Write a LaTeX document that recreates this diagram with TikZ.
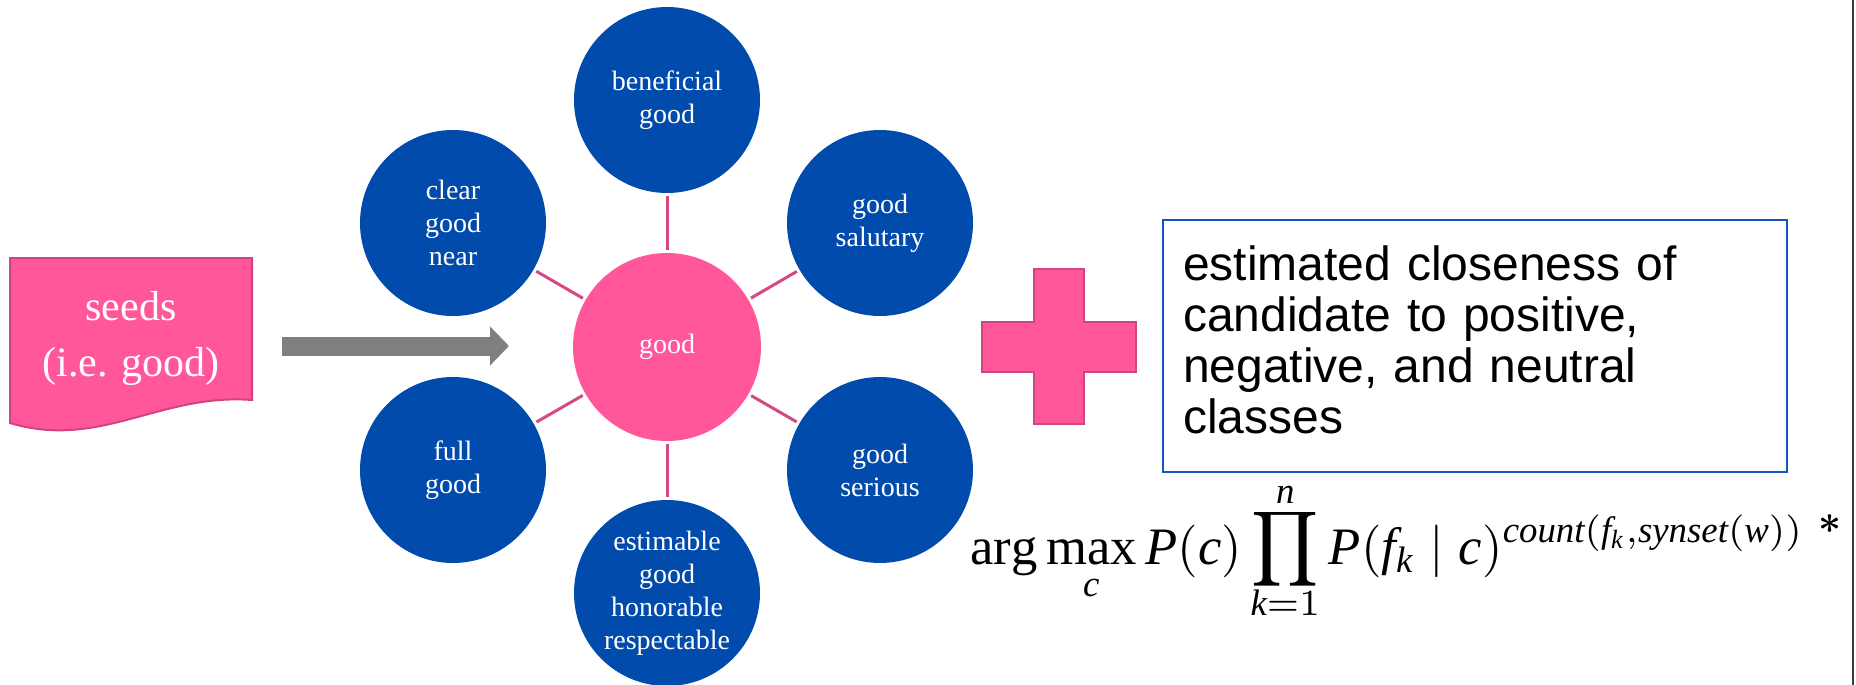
\documentclass[tikz,border=0pt]{standalone}
\usepackage{amsmath}
\usepackage{graphicx}
\usepackage{fontspec}
\setmainfont{Liberation Serif}
\newfontfamily\sansfam{Liberation Sans}
\newfontfamily\timesfam{Liberation Serif}[NFSSFamily=ltimes]
\DeclareMathAlphabet{\mti}{TU}{ltimes}{m}{it}
\newcommand{\prodstack}{\mathop{\vcenter{\offinterlineskip\halign{\hfil##\hfil\cr
  $\scriptstyle\mti{n}$\cr\noalign{\kern0.8pt}
  $\displaystyle\prod$\cr\noalign{\kern-0.3pt}
  $\scriptstyle\mti{k}=1$\cr}}}}
\usetikzlibrary{arrows.meta}
\definecolor{nodeblue}{RGB}{1,75,172}
\definecolor{seedpink}{RGB}{255,87,153}
\definecolor{pinkedge}{RGB}{208,68,128}
\definecolor{linkpink}{RGB}{214,72,133}
\definecolor{boxblue}{RGB}{20,84,196}
\definecolor{arrowgray}{RGB}{127,127,127}
\definecolor{edgegray}{RGB}{60,60,60}
\begin{document}
\begin{tikzpicture}[x=1pt,y=-1pt,
  sat/.style={circle,fill=nodeblue,minimum size=186pt,inner sep=0pt,text=white,
    align=center,font=\fontsize{28}{33}\selectfont},
  hub/.style={circle,fill=seedpink,minimum size=188pt,inner sep=0pt,text=white,
    font=\fontsize{28}{33}\selectfont},
  link/.style={draw=linkpink,line width=3pt,shorten >=3pt,shorten <=3pt},
  seedshape/.style={fill=seedpink,draw=pinkedge,line width=2pt,line join=miter},
  seedtext/.style={text=white,align=center,inner sep=0pt,font=\fontsize{42}{56}\selectfont},
  bigarrow/.style={draw=arrowgray,line width=19pt,-{Triangle[length=19pt,width=38pt]}},
  plusshape/.style={fill=seedpink,draw=pinkedge,line width=2pt},
  textframe/.style={draw=boxblue,line width=2.5pt,minimum width=624pt,minimum height=252pt,inner sep=0pt},
  boxtext/.style={text width=584pt,inner sep=0pt,align=left,font=\sansfam\fontsize{48}{51}\selectfont},
  formula/.style={inner sep=0pt},
  edgeline/.style={draw=edgegray,line width=2pt}]
\useasboundingbox (0,0) rectangle (1856,685);

% seeds document shape
\draw[seedshape] (10,258) -- (252,258) -- (252,400)
  .. controls (160,393) and (100,450) .. (10,423) -- cycle;
\node[seedtext] (seeds) at (131,338) {seeds\\(i.e. good)};

% arrow
\coordinate (arrS) at (282,346);
\coordinate (arrE) at (509,346);
\draw[bigarrow] (arrS) -- (arrE);

% hub and satellites
\node[hub] (hub) at (667,347) {good};
\node[sat] (top) at (667,100) {beneficial\\good};
\node[sat] (tr) at (880,223) {good\\salutary};
\node[sat] (tl) at (453,223) {clear\\good\\near};
\node[sat] (bl) at (453,470) {full\\good};
\node[sat] (br) at (880,470) {good\\serious};
\node[sat] (bot) at (667,593) {estimable\\good\\honorable\\respectable};
\foreach \s in {top,tr,tl,bl,br,bot} \draw[link] (hub) -- (\s);

% plus sign
\draw[plusshape] (1034,269) -- (1084,269) -- (1084,322) -- (1136,322) -- (1136,372)
  -- (1084,372) -- (1084,424) -- (1034,424) -- (1034,372) -- (982,372)
  -- (982,322) -- (1034,322) -- cycle;

% text box
\node[textframe] (box) at (1475,346) {};
\node[boxtext] (boxtxt) at (1475,340) {estimated closeness of\\candidate to positive,\\negative, and neutral\\classes};

% formula
\node[formula,anchor=west] (eq) at (970,551) {\resizebox{834pt}{!}{$\displaystyle
  \arg\max\limits_{\mti{c}} \mti{P}(\mti{c})\prodstack
  \mti{P}(\mti{f}_{\mti{k}}\mid \mti{c})^{\mti{count}(\mti{f}_{\mti{k}},\mti{synset}(\mti{w}))}$}};
\node[formula] (star) at (1830,524) {\scalebox{4}{$\boldsymbol{\ast}$}};

% right edge line
\coordinate (edgeT) at (1853,0);
\coordinate (edgeB) at (1853,685);
\draw[edgeline] (edgeT) -- (edgeB);
\end{tikzpicture}
\end{document}
